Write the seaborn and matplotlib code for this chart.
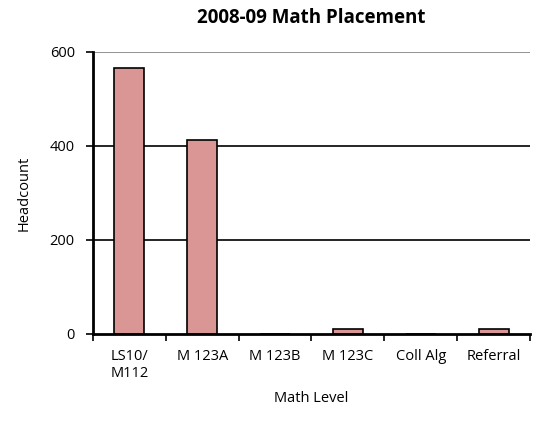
import matplotlib.pyplot as plt
import pandas as pd
import seaborn as sns

# Data
levels = ['LS10/\nM112', 'M 123A', 'M 123B', 'M 123C', 'Coll Alg', 'Referral']
headcount = [565, 412, 0, 10, 0, 10]

df = pd.DataFrame({'level': levels, 'count': headcount})

sns.set_style('white')
plt.rcParams['font.family'] = ['Open Sans', 'DejaVu Sans']
plt.rcParams['text.color'] = 'black'
plt.rcParams['axes.labelcolor'] = 'black'
plt.rcParams['xtick.color'] = 'black'
plt.rcParams['ytick.color'] = 'black'

fig = plt.figure(figsize=(5.46, 4.36), dpi=100)
ax = fig.add_axes([0.170, 0.234, 0.801, 0.647])

sns.barplot(data=df, x='level', y='count', color='#D99694', edgecolor='black',
            linewidth=1.2, width=0.41, saturation=1, ax=ax, zorder=3)

ax.set_ylim(0, 600)
ax.set_xlim(-0.5, 5.5)
ax.set_yticks([0, 200, 400, 600])
for v in [200, 400]:
    ax.axhline(v, color='black', linewidth=1.2, zorder=1)
ax.axhline(600, color='#808080', linewidth=1.2, zorder=1)

# Tick marks between categories, labels at centres
ax.set_xticks([i - 0.5 for i in range(7)], minor=False)
ax.set_xticklabels([])
ax.set_xticks(range(6), minor=True)
ax.set_xticklabels(levels, minor=True, fontsize=10.5)
ax.tick_params(axis='x', which='major', direction='out', length=5, width=1.2, color='black', bottom=True)
ax.tick_params(axis='x', which='minor', length=0, pad=11)
ax.tick_params(axis='y', direction='out', length=5, width=1.2, color='black', left=True, labelsize=10.5, pad=8)

for s in ['top', 'right']:
    ax.spines[s].set_visible(False)
for s in ['left', 'bottom']:
    ax.spines[s].set_color('black')
    ax.spines[s].set_linewidth(2)
ax.spines['bottom'].set_zorder(4)

ax.set_title('2008-09 Math Placement', fontsize=13.5, fontweight='bold', pad=21)
ax.set_xlabel('Math Level', fontsize=10.5, labelpad=7)
ax.set_ylabel('Headcount', fontsize=10.5, labelpad=13)

fig.savefig('out.png', dpi=100)
